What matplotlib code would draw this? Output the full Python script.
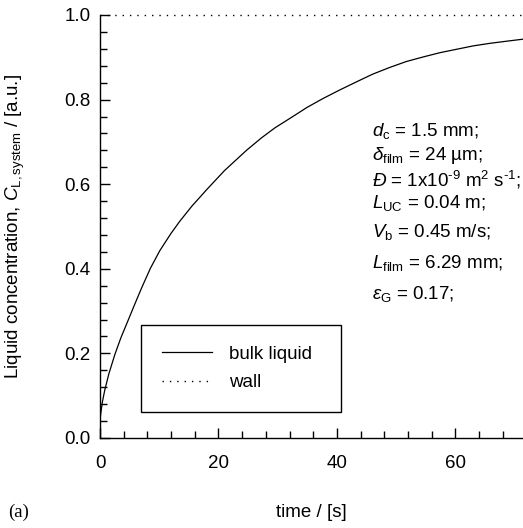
import numpy as np
import matplotlib
matplotlib.use("Agg")
import matplotlib.pyplot as plt
from matplotlib.ticker import MultipleLocator

plt.rcParams['font.family'] = ['Liberation Sans', 'DejaVu Sans']
plt.rcParams['mathtext.fontset'] = 'custom'
plt.rcParams['mathtext.rm'] = 'Liberation Sans'
plt.rcParams['mathtext.it'] = 'Liberation Sans:italic'
plt.rcParams['mathtext.bf'] = 'Liberation Sans:bold'

# 读图得到的数据
time_s = [0, 0.4, 0.8, 1.5, 2.5, 3.5, 4.8, 5.8, 7.0, 8.5, 10.1, 12.0, 13.5,
          15.5, 18.0, 21.0, 24.8, 27.3, 29.5, 32.1, 35.0, 37.7, 40.5, 43.3,
          46.0, 48.9, 51.7, 54.6, 57.4, 60.2, 63.0, 65.8, 68.6, 71.5]
c_bulk = [0.045, 0.085, 0.113, 0.152, 0.197, 0.236, 0.280, 0.314, 0.354,
          0.401, 0.443, 0.484, 0.513, 0.548, 0.587, 0.632, 0.681, 0.710,
          0.733, 0.756, 0.782, 0.803, 0.823, 0.842, 0.860, 0.876, 0.890,
          0.901, 0.911, 0.919, 0.927, 0.933, 0.938, 0.943]
wall_t = [0, 71.5]
c_wall = [1.0, 1.0]

params = [
    r'$d_\mathrm{c}$ = 1.5 mm;',
    r'$\delta_\mathrm{film}$ = 24 µm;',
    r'$\mathit{Đ}$ = 1x10$^{\text{-9}}$ m$^\mathrm{2}$ s$^{\text{-1}}$;',
    r'$L_\mathrm{UC}$ = 0.04 m;',
    r'$V_\mathrm{b}$ = 0.45 m/s;',
    r'$L_\mathrm{film}$ = 6.29 mm;',
    r'$\varepsilon_\mathrm{G}$ = 0.17;',
]
param_y = [131, 155, 180, 203, 232, 263, 294]  # 像素位置

FS = 13.5
W, H = 523, 528
fig = plt.figure(figsize=(W / 100, H / 100), dpi=100)
ax = fig.add_axes([100 / W, 1 - 438 / H, 423 / W, 423 / H])

ax.plot(time_s, c_bulk, color='black', lw=0.9, label='bulk liquid')
ax.plot(wall_t, c_wall, color='black', lw=1.0, linestyle=(0, (1, 4.3)),
        label='wall', clip_on=False)

ax.set_xlim(0, 71.4)
ax.set_ylim(0, 1.0)
ax.xaxis.set_major_locator(MultipleLocator(20))
ax.xaxis.set_minor_locator(MultipleLocator(4))
ax.yaxis.set_major_locator(MultipleLocator(0.2))
ax.yaxis.set_minor_locator(MultipleLocator(0.04))
ax.yaxis.set_major_formatter(plt.FormatStrFormatter('%.1f'))

for s in ['top', 'right']:
    ax.spines[s].set_visible(False)
for s in ['left', 'bottom']:
    ax.spines[s].set_linewidth(1.0)

ax.tick_params(which='both', direction='in', width=1.0, labelsize=FS, colors='black')
ax.tick_params(which='major', length=7)
ax.tick_params(which='minor', length=5)
ax.tick_params(axis='x', which='major', pad=12)
ax.tick_params(axis='y', which='major', pad=7)

ax.set_xlabel('time / [s]', fontsize=FS)
ax.xaxis.set_label_coords(0.5, -0.155)
ax.set_ylabel(r'Liquid concentration, $C_\mathrm{L,system}$ / [a.u.]', fontsize=FS)
ax.yaxis.set_label_coords(-0.172, 0.5)

leg = ax.legend(loc='upper left', bbox_to_anchor=(41 / 423, 0.0, 200 / 423, 113 / 423),
                mode='expand', borderaxespad=0, fontsize=FS, handlelength=2.7,
                handletextpad=0.9, labelspacing=0.6, borderpad=1.1, fancybox=False,
                edgecolor='black', framealpha=1)
leg.get_frame().set_linewidth(1.0)

for txt, py in zip(params, param_y):
    fig.text(372 / W, 1 - py / H, txt, fontsize=FS, va='center', ha='left')

fig.text(8 / W, 1 - 512 / H, '(a)', fontsize=FS, va='center', ha='left',
         family='Liberation Serif')

fig.savefig('out.png', dpi=100)
